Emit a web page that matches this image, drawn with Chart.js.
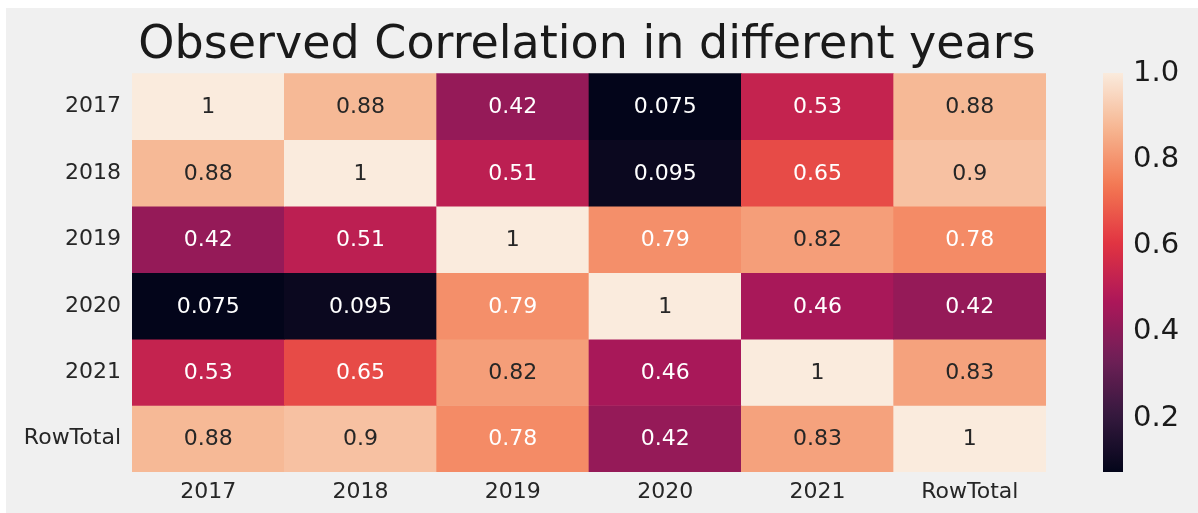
<!DOCTYPE html>
<html>
<head>
<meta charset="utf-8">
<script src="https://cdn.jsdelivr.net/npm/chart.js@4"></script>
<style>
  html, body { margin: 0; padding: 0; background: #ffffff; }
  #fondo { position: absolute; left: 6px; top: 8px; width: 1192px; height: 505px; background: #f0f0f0; }
  #cajaMapa { position: absolute; left: 6px; top: 8px; width: 1162px; height: 503px; }
  #cajaBarra { position: absolute; left: 1103px; top: 8px; width: 95px; height: 505px; }
</style>
</head>
<body>
<div id="fondo"></div>
<div id="cajaMapa"><canvas id="mapaCalor"></canvas></div>
<div id="cajaBarra"><canvas id="barraColor"></canvas></div>
<script>
// Etiquetas de filas y columnas
const filas = ['2017', '2018', '2019', '2020', '2021', 'RowTotal'];
const columnas = ['2017', '2018', '2019', '2020', '2021', 'RowTotal'];

// Valores de correlacion por fila
const fila2017 = [1, 0.88, 0.42, 0.075, 0.53, 0.88];
const fila2018 = [0.88, 1, 0.51, 0.095, 0.65, 0.9];
const fila2019 = [0.42, 0.51, 1, 0.79, 0.82, 0.78];
const fila2020 = [0.075, 0.095, 0.79, 1, 0.46, 0.42];
const fila2021 = [0.53, 0.65, 0.82, 0.46, 1, 0.83];
const filaTotal = [0.88, 0.9, 0.78, 0.42, 0.83, 1];
const matriz = [fila2017, fila2018, fila2019, fila2020, fila2021, filaTotal];

// Ticks de la barra de color
const ticksBarra = [0.2, 0.4, 0.6, 0.8, 1.0];

const vMin = Math.min(...matriz.flat());
const vMax = Math.max(...matriz.flat());

// Paleta "rocket" (puntos de control)
const paradasRocket = [
    [0, '#03051a'],
    [1 / 7, '#35193e'],
    [2 / 7, '#701f57'],
    [3 / 7, '#ad1759'],
    [4 / 7, '#e13342'],
    [5 / 7, '#f37651'],
    [6 / 7, '#f6b48f'],
    [1, '#faebdd']
];

function hexARgb(hex) {
    return [parseInt(hex.slice(1, 3), 16), parseInt(hex.slice(3, 5), 16), parseInt(hex.slice(5, 7), 16)];
}

function colorRocket(t) {
    t = Math.max(0, Math.min(1, t));
    for (let i = 0; i < paradasRocket.length - 1; i++) {
        const [t0, c0] = paradasRocket[i];
        const [t1, c1] = paradasRocket[i + 1];
        if (t <= t1) {
            const f = (t - t0) / (t1 - t0);
            const a = hexARgb(c0), b = hexARgb(c1);
            return a.map((v, k) => Math.round(v + (b[k] - v) * f));
        }
    }
    return hexARgb(paradasRocket[paradasRocket.length - 1][1]);
}

function colorValor(v) {
    const rgb = colorRocket((v - vMin) / (vMax - vMin));
    return `rgb(${rgb[0]}, ${rgb[1]}, ${rgb[2]})`;
}

// Luminancia relativa para escoger color de texto (como seaborn)
function luminancia(v) {
    const rgb = colorRocket((v - vMin) / (vMax - vMin)).map(c => {
        c = c / 255;
        return c <= 0.03928 ? c / 12.92 : Math.pow((c + 0.055) / 1.055, 2.4);
    });
    return 0.2126 * rgb[0] + 0.7152 * rgb[1] + 0.0722 * rgb[2];
}

const fuente = "'DejaVu Sans', sans-serif";

// Plugin para escribir los valores dentro de cada celda
const anotaciones = {
    id: 'anotaciones',
    afterDatasetsDraw(chart) {
        const ctx = chart.ctx;
        ctx.save();
        ctx.font = `22px ${fuente}`;
        ctx.textAlign = 'center';
        ctx.textBaseline = 'middle';
        chart.data.datasets.forEach((ds, i) => {
            const meta = chart.getDatasetMeta(i);
            meta.data.forEach((el, j) => {
                const v = matriz[i][j];
                const p = el.getCenterPoint();
                ctx.fillStyle = luminancia(v) > 0.408 ? '#262626' : '#ffffff';
                ctx.fillText(String(v), p.x, p.y + 1);
            });
        });
        ctx.restore();
    }
};

new Chart(document.getElementById('mapaCalor'), {
    type: 'bar',
    data: {
        labels: columnas,
        datasets: matriz.map((fila, i) => ({
            label: filas[i],
            data: fila.map(() => [i, i + 1]),
            backgroundColor: fila.map(v => colorValor(v)),
            borderWidth: 0,
            barPercentage: 1,
            categoryPercentage: 1,
            grouped: false
        }))
    },
    options: {
        responsive: true,
        maintainAspectRatio: false,
        animation: false,
        layout: { padding: 0 },
        plugins: {
            legend: { display: false },
            tooltip: { enabled: false },
            title: {
                display: true,
                text: 'Observed Correlation in different years',
                color: '#1a1a1a',
                font: { family: fuente, size: 46, weight: 'normal' },
                padding: { top: 10, bottom: 0 }
            }
        },
        scales: {
            x: {
                grid: { display: false, drawTicks: false },
                border: { display: false },
                ticks: { color: '#262626', font: { family: fuente, size: 22 }, padding: 7, maxRotation: 0 },
                afterFit: (s) => { s.height = 39; }
            },
            y: {
                type: 'linear',
                min: 0,
                max: filas.length,
                reverse: true,
                grid: { display: false, drawTicks: false },
                border: { display: false },
                afterBuildTicks: (s) => { s.ticks = filas.map((f, i) => ({ value: i + 0.5 })); },
                ticks: {
                    color: '#262626',
                    font: { family: fuente, size: 22 },
                    padding: 11,
                    callback: (v) => filas[Math.floor(v)]
                },
                afterFit: (s) => { s.width = 126; }
            },
            // eje vacio que reserva el espacio de la barra de color
            espacio: {
                type: 'linear',
                position: 'right',
                grid: { display: false, drawTicks: false },
                border: { display: false },
                ticks: { display: false },
                afterFit: (s) => { s.width = 122; }
            }
        }
    },
    plugins: [anotaciones]
});

// Barra de color
new Chart(document.getElementById('barraColor'), {
    type: 'bar',
    data: {
        labels: [''],
        datasets: [{
            data: [[vMin, vMax]],
            borderWidth: 0,
            barPercentage: 1,
            categoryPercentage: 1,
            backgroundColor: (context) => {
                const area = context.chart.chartArea;
                if (!area) return '#888';
                const g = context.chart.ctx.createLinearGradient(0, area.bottom, 0, area.top);
                for (let k = 0; k <= 40; k++) {
                    const rgb = colorRocket(k / 40);
                    g.addColorStop(k / 40, `rgb(${rgb[0]}, ${rgb[1]}, ${rgb[2]})`);
                }
                return g;
            }
        }]
    },
    options: {
        responsive: true,
        maintainAspectRatio: false,
        animation: false,
        layout: { padding: { left: 0, right: 0, top: 65, bottom: 41 } },
        plugins: { legend: { display: false }, tooltip: { enabled: false } },
        scales: {
            x: { display: false },
            y: {
                position: 'right',
                min: vMin,
                max: vMax,
                grid: { display: false, drawTicks: false },
                border: { display: false },
                afterBuildTicks: (s) => { s.ticks = ticksBarra.map(v => ({ value: v })); },
                ticks: {
                    color: '#1a1a1a',
                    font: { family: fuente, size: 29 },
                    padding: 10,
                    callback: (v) => v.toFixed(1)
                },
                afterFit: (s) => { s.width = 75; }
            }
        }
    }
});
</script>
</body>
</html>
